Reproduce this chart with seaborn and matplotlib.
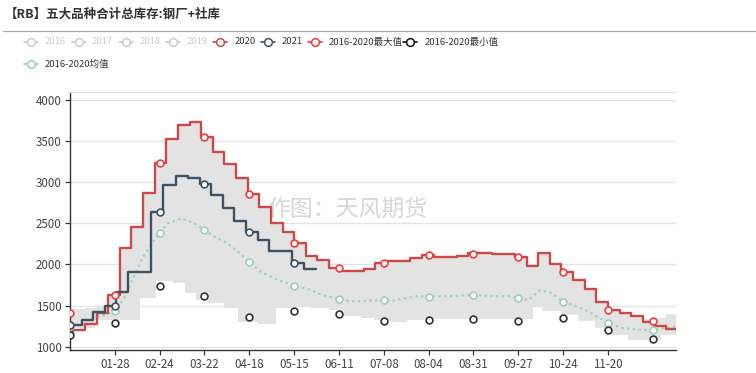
import numpy as np
import pandas as pd
import matplotlib
matplotlib.use("Agg")
import matplotlib.pyplot as plt
from matplotlib.lines import Line2D
from matplotlib import font_manager
import seaborn as sns

sns.set_theme(style="white")
plt.rcParams["font.family"] = ["Noto Sans CJK SC", "DejaVu Sans"]
plt.rcParams["axes.unicode_minus"] = False

# ---------------- data (day index on a 366-day Jan-01..Dec-31 axis) ----------------
tick_days = [27, 54, 81, 108, 135, 162, 189, 216, 243, 270, 297, 324]
tick_labels = ["01-28", "02-24", "03-22", "04-18", "05-15", "06-11",
               "07-08", "08-04", "08-31", "09-27", "10-24", "11-20"]
symbol_days = [0, 27, 54, 81, 108, 135, 162, 189, 216, 243, 270, 297, 324, 351]

days_2020 = [0, 2, 9, 16, 23, 30, 37, 44, 51, 58, 65, 72, 79, 86, 93, 100, 107, 114,
             121, 128, 135, 142, 149, 156, 163, 170, 177, 184, 191, 198, 205, 212, 219,
             226, 233, 240, 247, 254, 261, 268, 275, 282, 289, 296, 303, 310, 317, 324,
             331, 338, 345, 352, 359]
vals_2020 = [1142, 1203, 1275, 1410, 1627, 2204, 2460, 2865, 3238, 3522, 3697, 3729,
             3550, 3372, 3225, 3050, 2857, 2705, 2508, 2399, 2257, 2107, 2054, 1953,
             1922, 1915, 1947, 2022, 2047, 2047, 2083, 2118, 2097, 2097, 2103, 2136,
             2136, 2130, 2124, 2087, 1982, 2136, 2001, 1913, 1811, 1698, 1548, 1446,
             1406, 1373, 1300, 1256, 1216]

days_2021 = [0, 7, 14, 21, 28, 35, 42, 49, 56, 64, 71, 78, 85, 92, 99, 106, 113, 120,
             127, 134, 141]
vals_2021 = [1265, 1330, 1420, 1495, 1668, 1911, 1911, 2642, 2962, 3075, 3055, 2980,
             2845, 2685, 2530, 2399, 2300, 2165, 2163, 2015, 1943]
end_2021 = 148

band_hi_days = days_2020
band_hi_vals = [1446, 1460, 1475, 1500, 1627, 2204, 2460, 2865, 3238, 3522, 3697, 3729,
                3550, 3372, 3225, 3050, 2857, 2705, 2508, 2399, 2257, 2107, 2054, 1953,
                1922, 1915, 1947, 2022, 2047, 2047, 2083, 2118, 2097, 2097, 2103, 2136,
                2136, 2130, 2124, 2087, 1982, 2136, 2001, 1913, 1811, 1698, 1548, 1446,
                1406, 1373, 1335, 1350, 1400]
band_lo_days = [0, 15, 42, 52, 62, 69, 76, 83, 93, 101, 113, 124, 133, 144, 156, 163,
                175, 183, 193, 203, 213, 279, 284, 296, 306, 316, 326, 336, 356]
band_lo_vals = [1225, 1325, 1590, 1795, 1780, 1650, 1568, 1527, 1466, 1300, 1280, 1466,
                1487, 1466, 1446, 1378, 1350, 1321, 1297, 1321, 1337, 1484, 1431, 1390,
                1309, 1228, 1147, 1086, 1147]

max_vals = [1405, 1627, 3238, 3550, 2857, 2257, 1953, 2022, 2118, 2128, 2087, 1913, 1446, 1317]
min_vals = [1138, 1284, 1742, 1620, 1357, 1434, 1397, 1315, 1323, 1338, 1318, 1344, 1200, 1098]

mean_days = [0, 7, 15, 21, 27, 30, 33, 38, 43, 48, 54, 59, 67, 75, 81, 87, 95, 101, 108,
             115, 123, 135, 144, 152, 162, 169, 175, 183, 189, 196, 203, 209, 216, 229,
             243, 255, 264, 270, 276, 283, 289, 297, 304, 312, 324, 332, 342, 351, 358, 365]
mean_vals = [1247, 1284, 1365, 1385, 1432, 1507, 1608, 1831, 2054, 2217, 2387, 2500, 2561,
             2500, 2421, 2338, 2257, 2156, 2032, 1912, 1831, 1744, 1697, 1629, 1580, 1553,
             1553, 1565, 1562, 1565, 1593, 1614, 1610, 1614, 1630, 1614, 1614, 1598, 1565,
             1687, 1664, 1545, 1500, 1431, 1290, 1228, 1208, 1198, 1228, 1240]

legend_names = ["2016", "2017", "2018", "2019", "2020", "2021",
                "2016-2020最大值", "2016-2020最小值", "2016-2020均值"]

# ---------------- styling ----------------
C2020 = "#c94a48"
C2021 = "#3f5261"
CMAX = "#f03c3c"
CMIN = "#333333"
CMEAN = "#9dcfb8"
CBAND = "#e3e3e3"
XMAX = 365

installed = {f.name for f in font_manager.fontManager.ttflist}
narrow = [f for f in ["Liberation Sans Narrow"] if f in installed]
LEG_FONT = narrow + ["Noto Sans CJK SC", "DejaVu Sans"]
LEG_SIZE = 7.3 if narrow else 6.8
TITLE_FONT = ["Noto Sans CJK SC", "DejaVu Sans"]

W, H = 756, 373
fig = plt.figure(figsize=(W / 100, H / 100), dpi=100)
ax = fig.add_axes([70 / W, (H - 350) / H, 606 / W, (350 - 92.3) / H])


def step_at(days, vals, x):
    idx = np.searchsorted(np.asarray(days), np.asarray(x), side="right") - 1
    return np.asarray(vals)[idx]


# band (min/max range)
grid = np.union1d(np.union1d(band_hi_days, band_lo_days), [XMAX])
ax.fill_between(grid, step_at(band_lo_days, band_lo_vals, grid),
                step_at(band_hi_days, band_hi_vals, grid),
                step="post", color=CBAND, lw=0, zorder=1)

# mean line
df_mean = pd.DataFrame({"day": mean_days, "v": mean_vals})
sns.lineplot(data=df_mean, x="day", y="v", ax=ax, color=CMEAN, lw=1.6,
             linestyle=(0, (1, 1.6)), estimator=None, sort=False, zorder=2)

# 2020 and 2021 step lines
df20 = pd.DataFrame({"day": days_2020 + [XMAX], "v": vals_2020 + [vals_2020[-1]]})
sns.lineplot(data=df20, x="day", y="v", ax=ax, color=C2020, lw=1.7,
             drawstyle="steps-post", estimator=None, sort=False, zorder=3)
df21 = pd.DataFrame({"day": days_2021 + [end_2021], "v": vals_2021 + [vals_2021[-1]]})
sns.lineplot(data=df21, x="day", y="v", ax=ax, color=C2021, lw=1.7,
             drawstyle="steps-post", estimator=None, sort=False, zorder=4)

# symbols
mk = dict(s=24, color="white", linewidth=1.2, zorder=6, ax=ax, legend=False)
sns.scatterplot(x=symbol_days, y=[mean_vals[mean_days.index(d)] for d in symbol_days],
                edgecolor=CMEAN, **mk)
d21 = [d for d in symbol_days if d <= end_2021]
sns.scatterplot(x=d21, y=step_at(days_2021, vals_2021, d21), edgecolor=C2021, **mk)
sns.scatterplot(x=symbol_days, y=min_vals, edgecolor=CMIN, **mk)
sns.scatterplot(x=symbol_days, y=max_vals, edgecolor=CMAX, **mk)

# axes formatting
ax.set_xlim(0, XMAX)
ax.set_ylim(960, 4094)
ax.set_xticks(tick_days)
ax.set_xticklabels(tick_labels)
ax.set_yticks([1000, 1500, 2000, 2500, 3000, 3500, 4000])
ax.set_xlabel("")
ax.set_ylabel("")
ax.grid(axis="y", color="#e2e2e2", lw=0.9)
ax.grid(axis="x", visible=False)
ax.set_axisbelow(True)
ax.spines["right"].set_visible(False)
ax.spines["top"].set_color("#e2e2e2")
ax.spines["top"].set_linewidth(0.9)
for s in ["left", "bottom"]:
    ax.spines[s].set_color("#333333")
    ax.spines[s].set_linewidth(1.0)
ax.tick_params(axis="both", which="both", length=3.8, width=0.9, color="#333333",
               labelsize=8.3, labelcolor="#444444", direction="out")
ax.tick_params(axis="y", pad=2.2, left=True)
ax.tick_params(axis="x", pad=1.8, bottom=True)

# watermark
fig.text(347.5 / W, 1 - 209 / H, "作图：天风期货", fontsize=16.5, color="#808080",
         alpha=0.32, ha="center", va="center", zorder=10)

# title and separator
fig.text(5 / W, 1 - 14.5 / H, "【RB】五大品种合计总库存:钢厂+社库", fontsize=9.0,
         fontweight="bold", color="#333333", ha="left", va="center", family=TITLE_FONT)
fig.add_artist(Line2D([3 / W, 1.0], [1 - 31.3 / H] * 2, color="#aaaaaa", lw=0.9))

# legend (manual, ECharts style)
leg_icon_x = [30.5, 78.5, 126, 173, 220, 268, 315, 410, 30.5]
leg_text_x = [44.5, 92, 140, 187, 235, 282, 329, 425, 45]
leg_row_y = [42, 42, 42, 42, 42, 42, 42, 42, 64]
leg_colors = ["#cccccc", "#cccccc", "#cccccc", "#cccccc", C2020, C2021, CMAX, "#111111", CMEAN]
leg_text_colors = ["#cccccc"] * 4 + ["#333333"] * 5
for name, ix, tx, yy, c, tc in zip(legend_names, leg_icon_x, leg_text_x, leg_row_y,
                                   leg_colors, leg_text_colors):
    fy = 1 - yy / H
    fig.add_artist(Line2D([(ix - 7) / W, (ix + 7) / W], [fy, fy], color=c, lw=1.2))
    fig.add_artist(Line2D([ix / W], [fy], marker="o", markersize=5.6, color=c,
                          markerfacecolor="white", markeredgewidth=1.1, lw=0))
    fig.text(tx / W, fy, name, fontsize=LEG_SIZE, color=tc, ha="left", va="center",
             family=LEG_FONT)

fig.savefig("out.png", dpi=100)
